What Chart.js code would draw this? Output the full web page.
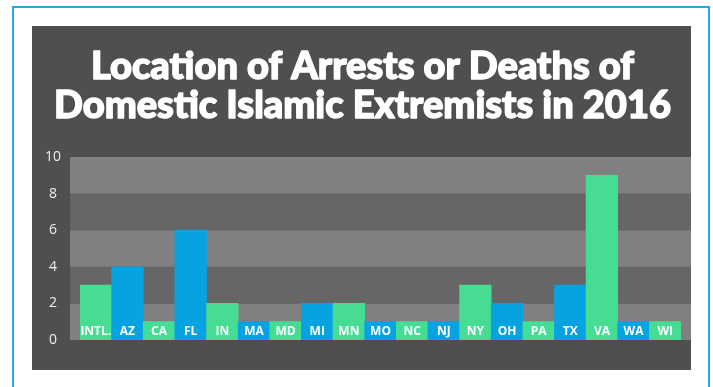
<!DOCTYPE html>
<html>
<head>
<meta charset="utf-8">
<script src="https://cdn.jsdelivr.net/npm/chart.js@4/dist/chart.umd.min.js"></script>
<style>
  html, body { margin: 0; padding: 0; background: #ffffff; width: 713px; height: 387px; overflow: hidden; }
  #frame { position: absolute; left: 12px; top: 6px; width: 698px; height: 400px; border: 2px solid #27a6df; box-sizing: border-box; }
  #wrap { position: absolute; left: 32px; top: 26px; width: 659px; height: 344px; background: #4f4f4f; }
  canvas { display: block; }
</style>
</head>
<body>
<div id="frame"></div>
<div id="wrap"><canvas id="c" width="659" height="344"></canvas></div>
<script>
const titleLines = ["Location of Arrests or Deaths of", "Domestic Islamic Extremists in 2016"];
const categories = ["INTL.", "AZ", "CA", "FL", "IN", "MA", "MD", "MI", "MN", "MO", "NC", "NJ", "NY", "OH", "PA", "TX", "VA", "WA", "WI"];
const counts = [3, 4, 1, 6, 2, 1, 1, 2, 2, 1, 1, 1, 3, 2, 1, 3, 9, 1, 1];
const yTicks = [0, 2, 4, 6, 8, 10];

const GREEN = "#46dc94";
const BLUE = "#06a2e2";
const BAND_LIGHT = "#808080";
const BAND_DARK = "#666666";

const titlePlugin = {
  id: "condensedTitle",
  afterDraw(chart) {
    const { ctx } = chart;
    ctx.save();
    ctx.fillStyle = "#ffffff";
    ctx.strokeStyle = "#ffffff";
    ctx.lineWidth = 1.4;
    ctx.lineJoin = "round";
    ctx.font = "900 38px Lato";
    ctx.textBaseline = "alphabetic";
    ctx.textAlign = "center";
    const w2 = ctx.measureText(titleLines[1]).width;
    const sx = 617 / w2;
    const cx = chart.width / 2 + 1;
    const baselines = [53, 92];
    titleLines.forEach((t, i) => {
      ctx.save();
      ctx.translate(cx, baselines[i]);
      ctx.scale(sx, 1);
      ctx.fillText(t, 0, 0);
      ctx.strokeText(t, 0, 0);
      ctx.restore();
    });
    ctx.restore();
  }
};

const bandsPlugin = {
  id: "bands",
  beforeDatasetsDraw(chart) {
    const { ctx } = chart;
    const y = chart.scales.y;
    const left = chart.chartArea.left - 10;
    const right = chart.width;
    for (let i = 0; i < yTicks.length - 1; i++) {
      const top = y.getPixelForValue(yTicks[i + 1]);
      const bot = y.getPixelForValue(yTicks[i]);
      ctx.fillStyle = (i % 2 === 0) ? BAND_LIGHT : BAND_DARK;
      ctx.fillRect(left, top, right - left, bot - top);
    }
  }
};

const labelPlugin = {
  id: "barLabels",
  afterDatasetsDraw(chart) {
    const { ctx } = chart;
    const x = chart.scales.x;
    const yb = chart.chartArea.bottom - 8;
    ctx.save();
    ctx.fillStyle = "#ffffff";
    ctx.font = "bold 12px 'Open Sans'";
    ctx.textAlign = "center";
    ctx.textBaseline = "middle";
    categories.forEach((c, i) => ctx.fillText(c, x.getPixelForValue(i), yb));
    ctx.restore();
  }
};

new Chart(document.getElementById("c"), {
  type: "bar",
  data: {
    labels: categories,
    datasets: [{
      data: counts,
      backgroundColor: (ctx) => (ctx.dataIndex % 2 === 0 ? GREEN : BLUE),
      borderWidth: 0,
      barPercentage: 1,
      categoryPercentage: 1
    }]
  },
  options: {
    responsive: false,
    animation: false,
    devicePixelRatio: 1,
    layout: { padding: { left: 10, right: 10, top: 131, bottom: 22 } },
    plugins: {
      legend: { display: false },
      tooltip: { enabled: false },
      title: { display: false }
    },
    scales: {
      x: {
        grid: { display: false },
        border: { display: false },
        ticks: { display: false }
      },
      y: {
        min: 0,
        max: 10,
        afterFit(scale) { scale.width = 38; },
        afterBuildTicks(scale) { scale.ticks = yTicks.map(v => ({ value: v })); },
        grid: { display: false, drawTicks: false },
        border: { display: false },
        ticks: {
          color: "#eeeeee",
          crossAlign: "center",
          padding: 19,
          font: { family: "'Open Sans'", size: 14 }
        }
      }
    }
  },
  plugins: [bandsPlugin, labelPlugin, titlePlugin]
});
</script>
</body>
</html>
